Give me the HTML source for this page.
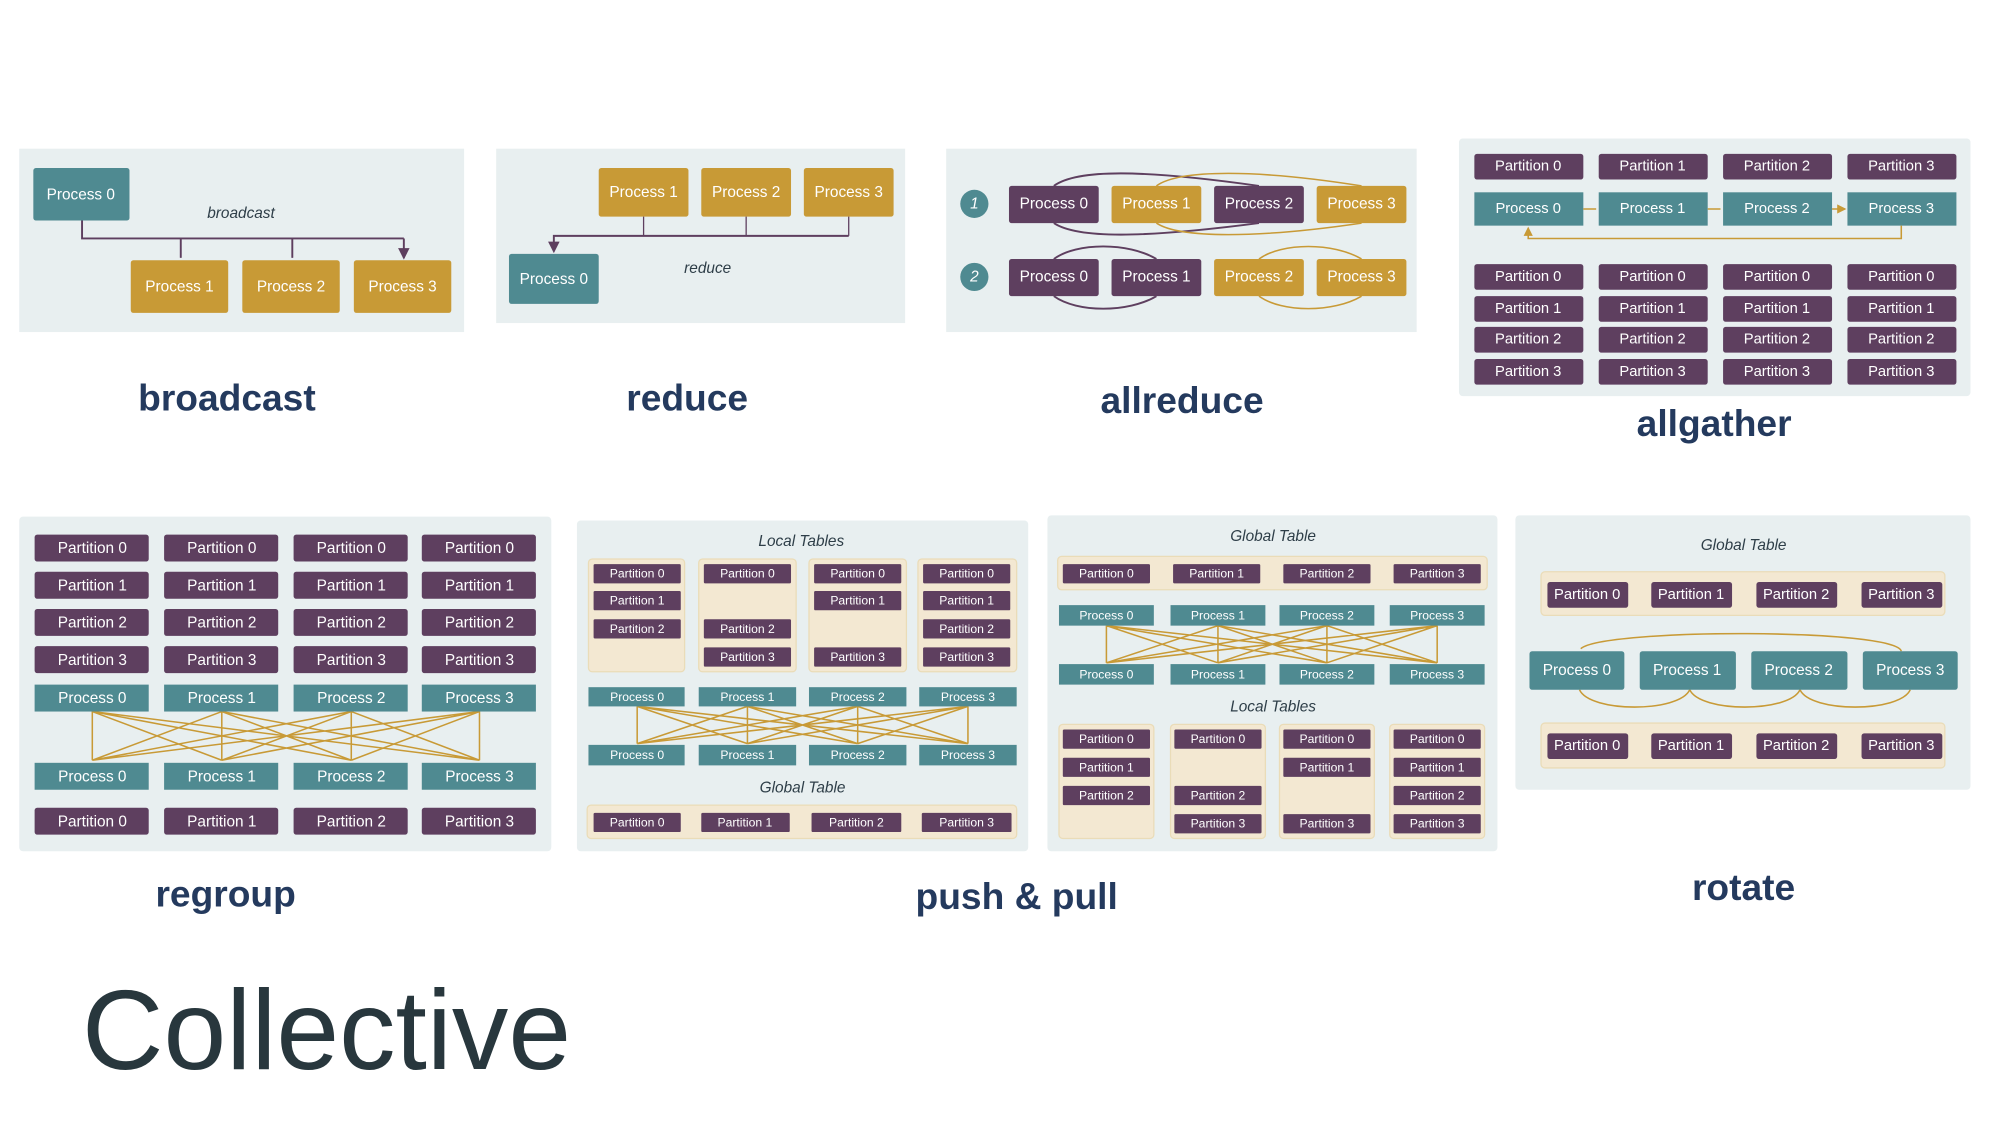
<!DOCTYPE html>
<html><head><meta charset="utf-8"><style>
html,body{margin:0;padding:0;background:#fff}
svg{display:block}
.pn{fill:#e8eff0}
.t{fill:#4f8a91}.g{fill:#c89a36}.p{fill:#5e3f5f}.c{fill:#f3e8d2;stroke:#eadcb8;stroke-width:1}
text{font-family:"Liberation Sans",sans-serif}
.w{fill:#fff;font-size:12px;text-anchor:middle;dominant-baseline:central}
.ws{fill:#fff;font-size:9.5px;text-anchor:middle;dominant-baseline:central}
.wm{fill:#fff;font-size:11.5px;text-anchor:middle;dominant-baseline:central}
.it{fill:#2e3e48;font-style:italic;font-size:12px;text-anchor:middle}
.lb{fill:#243a5e;font-weight:bold;font-size:29px;text-anchor:middle}
.gl{stroke:#c89a36;stroke-width:1.2;fill:none}
.pl{stroke:#5e3f5f;stroke-width:1.5;fill:none}
</style></head><body>
<svg width="2000" height="1125" viewBox="0 0 1560 877.5" xmlns="http://www.w3.org/2000/svg">
<defs>
<marker id="ap" markerWidth="6" markerHeight="6" refX="5" refY="3" orient="auto"><path d="M0,0L6,3L0,6z" fill="#5e3f5f"/></marker>
<marker id="ag" markerWidth="6" markerHeight="6" refX="5" refY="3" orient="auto"><path d="M0,0L6,3L0,6z" fill="#c89a36"/></marker>
</defs>

<!-- broadcast -->
<rect class="pn" x="15" y="116" width="347" height="143"/>
<rect class="t" x="26" y="131" width="75" height="41" rx="2"/><text class="w" x="63" y="152">Process 0</text>
<text class="it" x="188" y="170" font-size="19">broadcast</text>
<path class="pl" d="M64,172V186H315"/>
<path class="pl" stroke-width="1" d="M141,186V201M228,186V201M315,186V201" marker-end="url(#ap)"/>
<path d="M141,186V201M228,186V201M315,186V201" stroke="#5e3f5f" stroke-width="1" marker-end="url(#ap)"/>
<rect class="g" x="102" y="203" width="76" height="41" rx="2"/><text class="w" x="140" y="224">Process 1</text>
<rect class="g" x="189" y="203" width="76" height="41" rx="2"/><text class="w" x="227" y="224">Process 2</text>
<rect class="g" x="276" y="203" width="76" height="41" rx="2"/><text class="w" x="314" y="224">Process 3</text>
<text class="lb" x="177" y="320">broadcast</text>

<!-- reduce -->
<rect class="pn" x="387" y="116" width="319" height="136"/>
<rect class="g" x="467" y="131" width="70" height="38" rx="2"/><text class="w" x="502" y="150">Process 1</text>
<rect class="g" x="547" y="131" width="70" height="38" rx="2"/><text class="w" x="582" y="150">Process 2</text>
<rect class="g" x="627" y="131" width="70" height="38" rx="2"/><text class="w" x="662" y="150">Process 3</text>
<path stroke="#5e3f5f" stroke-width="1" fill="none" d="M502,169V184M582,169V184M662,169V184"/>
<path class="pl" d="M662,184H432V196" marker-end="url(#ap)"/>
<rect class="t" x="397" y="198" width="70" height="39" rx="2"/><text class="w" x="432" y="218">Process 0</text>
<text class="it" x="552" y="213" font-size="17">reduce</text>
<text class="lb" x="536" y="320">reduce</text>

<!-- allreduce -->
<rect class="pn" x="738" y="116" width="367" height="143"/>
<circle cx="760" cy="159" r="11" fill="#4f8a91"/><text class="w" x="760" y="159" font-style="italic">1</text>
<circle cx="760" cy="216" r="11" fill="#4f8a91"/><text class="w" x="760" y="216" font-style="italic">2</text>
<path class="pl" d="M822,145C840,132 890,132 982,145M822,174C840,186 890,186 982,174"/>
<path class="gl" stroke-width="1.5" d="M902,145C920,132 980,132 1062,145M902,174C920,186 980,186 1062,174"/>
<path class="pl" d="M822,202C840,189 880,189 902,202M822,231C840,244 880,244 902,231"/>
<path class="gl" stroke-width="1.5" d="M982,202C1000,189 1040,189 1062,202M982,231C1000,244 1040,244 1062,231"/>
<rect class="p" x="787" y="145" width="70" height="29" rx="2"/><text class="w" x="822" y="159">Process 0</text>
<rect class="g" x="867" y="145" width="70" height="29" rx="2"/><text class="w" x="902" y="159">Process 1</text>
<rect class="p" x="947" y="145" width="70" height="29" rx="2"/><text class="w" x="982" y="159">Process 2</text>
<rect class="g" x="1027" y="145" width="70" height="29" rx="2"/><text class="w" x="1062" y="159">Process 3</text>
<rect class="p" x="787" y="202" width="70" height="29" rx="2"/><text class="w" x="822" y="216">Process 0</text>
<rect class="p" x="867" y="202" width="70" height="29" rx="2"/><text class="w" x="902" y="216">Process 1</text>
<rect class="g" x="947" y="202" width="70" height="29" rx="2"/><text class="w" x="982" y="216">Process 2</text>
<rect class="g" x="1027" y="202" width="70" height="29" rx="2"/><text class="w" x="1062" y="216">Process 3</text>
<text class="lb" x="922" y="322">allreduce</text>

<!-- allgather -->
<rect class="pn" x="1138" y="108" width="399" height="201" rx="3"/>
<g>
<rect class="p" x="1150" y="120" width="85" height="20" rx="2"/><text class="wm" x="1192" y="130">Partition 0</text>
<rect class="p" x="1247" y="120" width="85" height="20" rx="2"/><text class="wm" x="1289" y="130">Partition 1</text>
<rect class="p" x="1344" y="120" width="85" height="20" rx="2"/><text class="wm" x="1386" y="130">Partition 2</text>
<rect class="p" x="1441" y="120" width="85" height="20" rx="2"/><text class="wm" x="1483" y="130">Partition 3</text>
<rect class="t" x="1150" y="150" width="85" height="26"/><text class="wm" x="1192" y="163">Process 0</text>
<rect class="t" x="1247" y="150" width="85" height="26"/><text class="wm" x="1289" y="163">Process 1</text>
<rect class="t" x="1344" y="150" width="85" height="26"/><text class="wm" x="1386" y="163">Process 2</text>
<rect class="t" x="1441" y="150" width="85" height="26"/><text class="wm" x="1483" y="163">Process 3</text>
<path class="gl" d="M1235,163H1245M1332,163H1342M1429,163H1439" marker-end="url(#ag)"/>
<path class="gl" d="M1483,176V186H1192V178" marker-end="url(#ag)"/>
</g>
<g id="agr">
<rect class="p" x="1150" y="206" width="85" height="20" rx="2"/><text class="wm" x="1192" y="216">Partition 0</text>
<rect class="p" x="1247" y="206" width="85" height="20" rx="2"/><text class="wm" x="1289" y="216">Partition 0</text>
<rect class="p" x="1344" y="206" width="85" height="20" rx="2"/><text class="wm" x="1386" y="216">Partition 0</text>
<rect class="p" x="1441" y="206" width="85" height="20" rx="2"/><text class="wm" x="1483" y="216">Partition 0</text>
<rect class="p" x="1150" y="231" width="85" height="20" rx="2"/><text class="wm" x="1192" y="241">Partition 1</text>
<rect class="p" x="1247" y="231" width="85" height="20" rx="2"/><text class="wm" x="1289" y="241">Partition 1</text>
<rect class="p" x="1344" y="231" width="85" height="20" rx="2"/><text class="wm" x="1386" y="241">Partition 1</text>
<rect class="p" x="1441" y="231" width="85" height="20" rx="2"/><text class="wm" x="1483" y="241">Partition 1</text>
<rect class="p" x="1150" y="255" width="85" height="20" rx="2"/><text class="wm" x="1192" y="265">Partition 2</text>
<rect class="p" x="1247" y="255" width="85" height="20" rx="2"/><text class="wm" x="1289" y="265">Partition 2</text>
<rect class="p" x="1344" y="255" width="85" height="20" rx="2"/><text class="wm" x="1386" y="265">Partition 2</text>
<rect class="p" x="1441" y="255" width="85" height="20" rx="2"/><text class="wm" x="1483" y="265">Partition 2</text>
<rect class="p" x="1150" y="280" width="85" height="20" rx="2"/><text class="wm" x="1192" y="290">Partition 3</text>
<rect class="p" x="1247" y="280" width="85" height="20" rx="2"/><text class="wm" x="1289" y="290">Partition 3</text>
<rect class="p" x="1344" y="280" width="85" height="20" rx="2"/><text class="wm" x="1386" y="290">Partition 3</text>
<rect class="p" x="1441" y="280" width="85" height="20" rx="2"/><text class="wm" x="1483" y="290">Partition 3</text>
</g>
<text class="lb" x="1337" y="340">allgather</text>

<!-- regroup -->
<rect class="pn" x="15" y="403" width="415" height="261" rx="3"/>
<g font-size="13">
<rect class="p" x="27" y="417" width="89" height="21" rx="2"/><text class="w" x="72" y="428" font-size="13">Partition 0</text>
<rect class="p" x="128" y="417" width="89" height="21" rx="2"/><text class="w" x="173" y="428" font-size="13">Partition 0</text>
<rect class="p" x="229" y="417" width="89" height="21" rx="2"/><text class="w" x="274" y="428" font-size="13">Partition 0</text>
<rect class="p" x="329" y="417" width="89" height="21" rx="2"/><text class="w" x="374" y="428" font-size="13">Partition 0</text>
<rect class="p" x="27" y="446" width="89" height="21" rx="2"/><text class="w" x="72" y="457" font-size="13">Partition 1</text>
<rect class="p" x="128" y="446" width="89" height="21" rx="2"/><text class="w" x="173" y="457" font-size="13">Partition 1</text>
<rect class="p" x="229" y="446" width="89" height="21" rx="2"/><text class="w" x="274" y="457" font-size="13">Partition 1</text>
<rect class="p" x="329" y="446" width="89" height="21" rx="2"/><text class="w" x="374" y="457" font-size="13">Partition 1</text>
<rect class="p" x="27" y="475" width="89" height="21" rx="2"/><text class="w" x="72" y="486" font-size="13">Partition 2</text>
<rect class="p" x="128" y="475" width="89" height="21" rx="2"/><text class="w" x="173" y="486" font-size="13">Partition 2</text>
<rect class="p" x="229" y="475" width="89" height="21" rx="2"/><text class="w" x="274" y="486" font-size="13">Partition 2</text>
<rect class="p" x="329" y="475" width="89" height="21" rx="2"/><text class="w" x="374" y="486" font-size="13">Partition 2</text>
<rect class="p" x="27" y="504" width="89" height="21" rx="2"/><text class="w" x="72" y="515" font-size="13">Partition 3</text>
<rect class="p" x="128" y="504" width="89" height="21" rx="2"/><text class="w" x="173" y="515" font-size="13">Partition 3</text>
<rect class="p" x="229" y="504" width="89" height="21" rx="2"/><text class="w" x="274" y="515" font-size="13">Partition 3</text>
<rect class="p" x="329" y="504" width="89" height="21" rx="2"/><text class="w" x="374" y="515" font-size="13">Partition 3</text>
<path class="gl" d="M72,555L72,593M72,555L173,593M72,555L274,593M72,555L374,593M173,555L72,593M173,555L173,593M173,555L274,593M173,555L374,593M274,555L72,593M274,555L173,593M274,555L274,593M274,555L374,593M374,555L72,593M374,555L173,593M374,555L274,593M374,555L374,593"/>
<rect class="t" x="27" y="534" width="89" height="21"/><text class="w" x="72" y="545" font-size="13">Process 0</text>
<rect class="t" x="128" y="534" width="89" height="21"/><text class="w" x="173" y="545" font-size="13">Process 1</text>
<rect class="t" x="229" y="534" width="89" height="21"/><text class="w" x="274" y="545" font-size="13">Process 2</text>
<rect class="t" x="329" y="534" width="89" height="21"/><text class="w" x="374" y="545" font-size="13">Process 3</text>
<rect class="t" x="27" y="595" width="89" height="21"/><text class="w" x="72" y="606" font-size="13">Process 0</text>
<rect class="t" x="128" y="595" width="89" height="21"/><text class="w" x="173" y="606" font-size="13">Process 1</text>
<rect class="t" x="229" y="595" width="89" height="21"/><text class="w" x="274" y="606" font-size="13">Process 2</text>
<rect class="t" x="329" y="595" width="89" height="21"/><text class="w" x="374" y="606" font-size="13">Process 3</text>
<rect class="p" x="27" y="630" width="89" height="21" rx="2"/><text class="w" x="72" y="641" font-size="13">Partition 0</text>
<rect class="p" x="128" y="630" width="89" height="21" rx="2"/><text class="w" x="173" y="641" font-size="13">Partition 1</text>
<rect class="p" x="229" y="630" width="89" height="21" rx="2"/><text class="w" x="274" y="641" font-size="13">Partition 2</text>
<rect class="p" x="329" y="630" width="89" height="21" rx="2"/><text class="w" x="374" y="641" font-size="13">Partition 3</text>
</g>
<text class="lb" x="176" y="707">regroup</text>

<!-- push panel -->
<rect class="pn" x="450" y="406" width="352" height="258" rx="3"/>
<text class="it" x="625" y="426" font-size="11">Local Tables</text>
<rect class="c" x="459" y="436" width="75" height="88" rx="3"/>
<rect class="c" x="545" y="436" width="76" height="88" rx="3"/>
<rect class="c" x="631" y="436" width="76" height="88" rx="3"/>
<rect class="c" x="716" y="436" width="77" height="88" rx="3"/>
<rect class="p" x="463" y="440" width="68" height="15" rx="1"/><text class="ws" x="497" y="447.5">Partition 0</text>
<rect class="p" x="463" y="461" width="68" height="15" rx="1"/><text class="ws" x="497" y="468.5">Partition 1</text>
<rect class="p" x="463" y="483" width="68" height="15" rx="1"/><text class="ws" x="497" y="490.5">Partition 2</text>
<rect class="p" x="549" y="440" width="68" height="15" rx="1"/><text class="ws" x="583" y="447.5">Partition 0</text>
<rect class="p" x="549" y="483" width="68" height="15" rx="1"/><text class="ws" x="583" y="490.5">Partition 2</text>
<rect class="p" x="549" y="505" width="68" height="15" rx="1"/><text class="ws" x="583" y="512.5">Partition 3</text>
<rect class="p" x="635" y="440" width="68" height="15" rx="1"/><text class="ws" x="669" y="447.5">Partition 0</text>
<rect class="p" x="635" y="461" width="68" height="15" rx="1"/><text class="ws" x="669" y="468.5">Partition 1</text>
<rect class="p" x="635" y="505" width="68" height="15" rx="1"/><text class="ws" x="669" y="512.5">Partition 3</text>
<rect class="p" x="720" y="440" width="68" height="15" rx="1"/><text class="ws" x="754" y="447.5">Partition 0</text>
<rect class="p" x="720" y="461" width="68" height="15" rx="1"/><text class="ws" x="754" y="468.5">Partition 1</text>
<rect class="p" x="720" y="483" width="68" height="15" rx="1"/><text class="ws" x="754" y="490.5">Partition 2</text>
<rect class="p" x="720" y="505" width="68" height="15" rx="1"/><text class="ws" x="754" y="512.5">Partition 3</text>
<path class="gl" d="M497,551L497,580M497,551L583,580M497,551L669,580M497,551L755,580M583,551L497,580M583,551L583,580M583,551L669,580M583,551L755,580M669,551L497,580M669,551L583,580M669,551L669,580M669,551L755,580M755,551L497,580M755,551L583,580M755,551L669,580M755,551L755,580"/>
<rect class="t" x="459" y="536" width="75" height="15"/><text class="ws" x="497" y="543.5">Process 0</text>
<rect class="t" x="545" y="536" width="76" height="15"/><text class="ws" x="583" y="543.5">Process 1</text>
<rect class="t" x="631" y="536" width="76" height="15"/><text class="ws" x="669" y="543.5">Process 2</text>
<rect class="t" x="717" y="536" width="76" height="15"/><text class="ws" x="755" y="543.5">Process 3</text>
<rect class="t" x="459" y="581" width="75" height="16"/><text class="ws" x="497" y="589">Process 0</text>
<rect class="t" x="545" y="581" width="76" height="16"/><text class="ws" x="583" y="589">Process 1</text>
<rect class="t" x="631" y="581" width="76" height="16"/><text class="ws" x="669" y="589">Process 2</text>
<rect class="t" x="717" y="581" width="76" height="16"/><text class="ws" x="755" y="589">Process 3</text>
<text class="it" x="626" y="618" font-size="11">Global Table</text>
<rect class="c" x="458" y="628" width="335" height="26" rx="3"/>
<rect class="p" x="463" y="634" width="68" height="15" rx="1"/><text class="ws" x="497" y="641.5">Partition 0</text>
<rect class="p" x="547" y="634" width="69" height="15" rx="1"/><text class="ws" x="581" y="641.5">Partition 1</text>
<rect class="p" x="633" y="634" width="70" height="15" rx="1"/><text class="ws" x="668" y="641.5">Partition 2</text>
<rect class="p" x="719" y="634" width="70" height="15" rx="1"/><text class="ws" x="754" y="641.5">Partition 3</text>

<!-- pull panel -->
<rect class="pn" x="817" y="402" width="351" height="262" rx="3"/>
<text class="it" x="993" y="422" font-size="11">Global Table</text>
<rect class="c" x="825" y="434" width="335" height="26" rx="3"/>
<rect class="p" x="829" y="440" width="68" height="15" rx="1"/><text class="ws" x="863" y="447.5">Partition 0</text>
<rect class="p" x="915" y="440" width="68" height="15" rx="1"/><text class="ws" x="949" y="447.5">Partition 1</text>
<rect class="p" x="1001" y="440" width="68" height="15" rx="1"/><text class="ws" x="1035" y="447.5">Partition 2</text>
<rect class="p" x="1087" y="440" width="68" height="15" rx="1"/><text class="ws" x="1121" y="447.5">Partition 3</text>
<path class="gl" d="M863,488L863,517M863,488L950,517M863,488L1035,517M863,488L1121,517M950,488L863,517M950,488L950,517M950,488L1035,517M950,488L1121,517M1035,488L863,517M1035,488L950,517M1035,488L1035,517M1035,488L1121,517M1121,488L863,517M1121,488L950,517M1121,488L1035,517M1121,488L1121,517"/>
<rect class="t" x="826" y="472" width="74" height="16"/><text class="ws" x="863" y="480">Process 0</text>
<rect class="t" x="913" y="472" width="74" height="16"/><text class="ws" x="950" y="480">Process 1</text>
<rect class="t" x="998" y="472" width="74" height="16"/><text class="ws" x="1035" y="480">Process 2</text>
<rect class="t" x="1084" y="472" width="74" height="16"/><text class="ws" x="1121" y="480">Process 3</text>
<rect class="t" x="826" y="518" width="74" height="16"/><text class="ws" x="863" y="526">Process 0</text>
<rect class="t" x="913" y="518" width="74" height="16"/><text class="ws" x="950" y="526">Process 1</text>
<rect class="t" x="998" y="518" width="74" height="16"/><text class="ws" x="1035" y="526">Process 2</text>
<rect class="t" x="1084" y="518" width="74" height="16"/><text class="ws" x="1121" y="526">Process 3</text>
<text class="it" x="993" y="555" font-size="11">Local Tables</text>
<rect class="c" x="826" y="565" width="74" height="89" rx="3"/>
<rect class="c" x="913" y="565" width="74" height="89" rx="3"/>
<rect class="c" x="998" y="565" width="74" height="89" rx="3"/>
<rect class="c" x="1084" y="565" width="74" height="89" rx="3"/>
<rect class="p" x="829" y="569" width="68" height="15" rx="1"/><text class="ws" x="863" y="576.5">Partition 0</text>
<rect class="p" x="829" y="591" width="68" height="15" rx="1"/><text class="ws" x="863" y="598.5">Partition 1</text>
<rect class="p" x="829" y="613" width="68" height="15" rx="1"/><text class="ws" x="863" y="620.5">Partition 2</text>
<rect class="p" x="916" y="569" width="68" height="15" rx="1"/><text class="ws" x="950" y="576.5">Partition 0</text>
<rect class="p" x="916" y="613" width="68" height="15" rx="1"/><text class="ws" x="950" y="620.5">Partition 2</text>
<rect class="p" x="916" y="635" width="68" height="15" rx="1"/><text class="ws" x="950" y="642.5">Partition 3</text>
<rect class="p" x="1001" y="569" width="68" height="15" rx="1"/><text class="ws" x="1035" y="576.5">Partition 0</text>
<rect class="p" x="1001" y="591" width="68" height="15" rx="1"/><text class="ws" x="1035" y="598.5">Partition 1</text>
<rect class="p" x="1001" y="635" width="68" height="15" rx="1"/><text class="ws" x="1035" y="642.5">Partition 3</text>
<rect class="p" x="1087" y="569" width="68" height="15" rx="1"/><text class="ws" x="1121" y="576.5">Partition 0</text>
<rect class="p" x="1087" y="591" width="68" height="15" rx="1"/><text class="ws" x="1121" y="598.5">Partition 1</text>
<rect class="p" x="1087" y="613" width="68" height="15" rx="1"/><text class="ws" x="1121" y="620.5">Partition 2</text>
<rect class="p" x="1087" y="635" width="68" height="15" rx="1"/><text class="ws" x="1121" y="642.5">Partition 3</text>
<text class="lb" x="793" y="709">push &amp; pull</text>

<!-- rotate -->
<rect class="pn" x="1182" y="402" width="355" height="214" rx="3"/>
<text class="it" x="1360" y="429" font-size="14">Global Table</text>
<rect class="c" x="1202" y="446" width="315" height="34" rx="3"/>
<rect class="p" x="1207" y="454" width="63" height="20" rx="2"/><text class="wm" x="1238" y="464">Partition 0</text>
<rect class="p" x="1288" y="454" width="63" height="20" rx="2"/><text class="wm" x="1319" y="464">Partition 1</text>
<rect class="p" x="1370" y="454" width="63" height="20" rx="2"/><text class="wm" x="1401" y="464">Partition 2</text>
<rect class="p" x="1452" y="454" width="63" height="20" rx="2"/><text class="wm" x="1483" y="464">Partition 3</text>
<path class="gl" stroke-width="1.8" d="M1483,508C1480,490 1250,490 1233,506"/>
<path class="gl" stroke-width="1.8" d="M1232,538C1240,556 1310,556 1318,538M1318,538C1326,556 1396,556 1404,538M1404,538C1412,556 1482,556 1490,538"/>
<rect class="t" x="1193" y="508" width="74" height="30" rx="2"/><text class="w" x="1230" y="523" font-size="14">Process 0</text>
<rect class="t" x="1279" y="508" width="75" height="30" rx="2"/><text class="w" x="1316" y="523" font-size="14">Process 1</text>
<rect class="t" x="1366" y="508" width="75" height="30" rx="2"/><text class="w" x="1403" y="523" font-size="14">Process 2</text>
<rect class="t" x="1453" y="508" width="74" height="30" rx="2"/><text class="w" x="1490" y="523" font-size="14">Process 3</text>
<rect class="c" x="1202" y="564" width="315" height="35" rx="3"/>
<rect class="p" x="1207" y="572" width="63" height="20" rx="2"/><text class="wm" x="1238" y="582">Partition 0</text>
<rect class="p" x="1288" y="572" width="63" height="20" rx="2"/><text class="wm" x="1319" y="582">Partition 1</text>
<rect class="p" x="1370" y="572" width="63" height="20" rx="2"/><text class="wm" x="1401" y="582">Partition 2</text>
<rect class="p" x="1452" y="572" width="63" height="20" rx="2"/><text class="wm" x="1483" y="582">Partition 3</text>
<text class="lb" x="1360" y="702">rotate</text>

<text x="64" y="834" font-size="88" fill="#28373d" font-family="Liberation Sans, sans-serif">Collective</text>
</svg>
</body></html>
